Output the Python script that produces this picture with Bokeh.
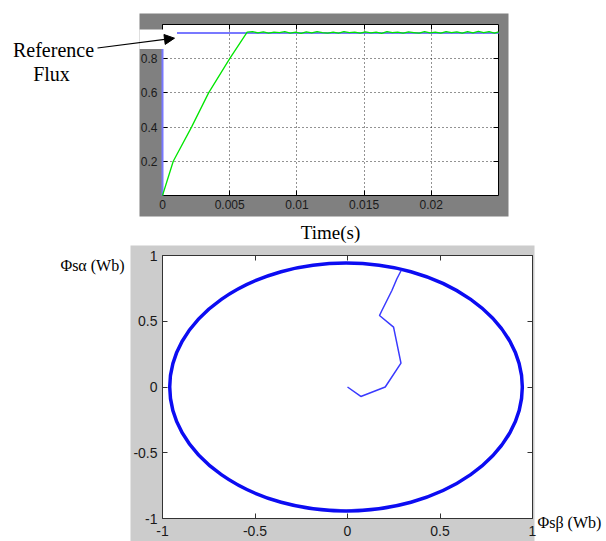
from bokeh.plotting import figure
from bokeh.models import (Range1d, LinearAxis, FixedTicker, BoxAnnotation, Label, Arrow,
                          NormalHead, GridBox)
from bokeh.embed import file_html
from bokeh.resources import INLINE

# ---------------- data ----------------
# top chart: flux magnitude vs time
ref_t = [0.0, 0.0, 0.025]
ref_flux = [0.0, 0.95, 0.95]

ramp_t = [0.0, 0.0008, 0.00216, 0.00343, 0.005, 0.0063]
ramp_flux = [0.0, 0.2, 0.4, 0.6, 0.8, 0.955]

steady_t = [0.0067, 0.0071, 0.0075, 0.0079, 0.0083, 0.0087, 0.0091, 0.0095, 0.0099, 0.0103,
            0.0107, 0.0111, 0.0115, 0.0119, 0.0123, 0.0127, 0.0131, 0.0135, 0.0139, 0.0143,
            0.0147, 0.0151, 0.0155, 0.0159, 0.0163, 0.0167, 0.0171, 0.0175, 0.0179, 0.0183,
            0.0187, 0.0191, 0.0195, 0.0199, 0.0203, 0.0207, 0.0211, 0.0215, 0.0219, 0.0223,
            0.0227, 0.0231, 0.0235, 0.0239, 0.0243, 0.0247, 0.0250]
steady_flux = [0.958, 0.951, 0.957, 0.949, 0.956, 0.952, 0.959, 0.950, 0.955, 0.948,
               0.957, 0.951, 0.958, 0.953, 0.949, 0.956, 0.950, 0.958, 0.952, 0.956,
               0.949, 0.957, 0.951, 0.955, 0.948, 0.958, 0.952, 0.956, 0.950, 0.957,
               0.953, 0.949, 0.958, 0.951, 0.956, 0.950, 0.959, 0.952, 0.957, 0.949,
               0.958, 0.951, 0.960, 0.953, 0.958, 0.950, 0.957]

top_xticks = [0, 0.005, 0.01, 0.015, 0.02]
top_xlabels = ["0", "0.005", "0.01", "0.015", "0.02"]
top_yticks = [0.2, 0.4, 0.6, 0.8]
top_ylabels = ["0.2", "0.4", "0.6", "0.8"]

# bottom chart: stator flux locus
locus_center_beta = [-0.008]
locus_center_alpha = [0.0]
locus_width = [1.906]
locus_height = [1.886]

traj_beta = [0.0, 0.072, 0.204, 0.289, 0.249, 0.173, 0.186, 0.213, 0.240, 0.267, 0.290]
traj_alpha = [0.0, -0.072, 0.0, 0.181, 0.455, 0.544, 0.582, 0.658, 0.734, 0.823, 0.886]

bot_ticks = [-1, -0.5, 0, 0.5, 1]
bot_labels = ["-1", "-0.5", "0", "0.5", "1"]

SANS = "Liberation Sans"
SERIF = "Liberation Serif"
W, H = 606, 541


def style_axis(ax, ticks, labels, fs, color, show_labels=True, standoff=4):
    ax.ticker = FixedTicker(ticks=ticks)
    ax.major_label_overrides = dict(zip(ticks, labels))
    ax.major_tick_in = 5
    ax.major_tick_out = 0
    ax.major_tick_line_color = color
    ax.minor_tick_line_color = None
    ax.axis_line_color = color
    ax.major_label_text_font = SANS
    ax.major_label_text_font_size = fs
    ax.major_label_standoff = standoff
    if show_labels:
        ax.major_label_text_color = "#1a1a1a"
    else:
        ax.major_label_text_color = None
        ax.major_label_standoff = 0


# ---------------- background (grey panels) ----------------
bg = figure(width=W, height=H, x_range=Range1d(0, W), y_range=Range1d(H, 0),
            output_backend="svg", toolbar_location=None, min_border=0, frame_align=False,
            x_axis_location=None, y_axis_location=None, outline_line_color=None,
            background_fill_color="white", border_fill_color="white")
bg.xgrid.visible = False
bg.ygrid.visible = False
for (l, r, t, b, c) in [(139, 508, 13, 216, "#808080"), (162, 498, 24, 195, "white"),
                        (130, 534, 245, 541, "#cccccc"), (162, 532, 255, 518, "white")]:
    bg.add_layout(BoxAnnotation(left=l, right=r, top=t, bottom=b, fill_color=c,
                                fill_alpha=1, line_color=None))

# ---------------- top figure ----------------
top = figure(width=W, height=245, x_range=Range1d(0, 0.025), y_range=Range1d(0, 1),
             output_backend="svg", toolbar_location=None, frame_align=False,
             min_border_left=162, min_border_right=108, min_border_top=24, min_border_bottom=50,
             background_fill_color=None, border_fill_color=None, outline_line_color=None)

xa = top.below[0]
ya = top.left[0]
style_axis(xa, top_xticks, top_xlabels, "12px", "black")
style_axis(ya, top_yticks, top_ylabels, "12px", "black", standoff=5)
xa.axis_label = "Time(s)"
xa.axis_label_text_font = SERIF
xa.axis_label_text_font_size = "19px"
xa.axis_label_text_font_style = "normal"
xa.axis_label_text_color = "black"
xa.axis_label_standoff = 10

top.xgrid.ticker = xa.ticker
top.ygrid.ticker = ya.ticker
for g in (top.xgrid, top.ygrid):
    g.grid_line_color = "black"
    g.grid_line_dash = "1 3"
    g.grid_line_alpha = 0.85
    g.grid_line_width = 1

ax_top = LinearAxis()
style_axis(ax_top, top_xticks, top_xlabels, "12px", "black", show_labels=False)
top.add_layout(ax_top, "above")
ax_right = LinearAxis()
style_axis(ax_right, top_yticks, top_ylabels, "12px", "black", show_labels=False)
top.add_layout(ax_right, "right")

top.line(ref_t, ref_flux, line_color="#7878ff", line_width=2, level="overlay")
top.line(ramp_t + steady_t, ramp_flux + steady_flux, line_color="#00e600", line_width=1.3,
         level="overlay")

# ---------------- bottom figure ----------------
bot = figure(width=W, height=296, x_range=Range1d(-1, 1), y_range=Range1d(-1, 1),
             output_backend="svg", toolbar_location=None, frame_align=False,
             min_border_left=162, min_border_right=74, min_border_top=10, min_border_bottom=23,
             background_fill_color=None, border_fill_color=None, outline_line_color=None)
bot.xgrid.visible = False
bot.ygrid.visible = False

bx = bot.below[0]
by = bot.left[0]
style_axis(bx, bot_ticks, bot_labels, "14px", "#333333", standoff=7)
style_axis(by, bot_ticks, bot_labels, "14px", "#333333", standoff=5)
bx2 = LinearAxis()
style_axis(bx2, bot_ticks, bot_labels, "14px", "#333333", show_labels=False)
bot.add_layout(bx2, "above")
by2 = LinearAxis()
style_axis(by2, bot_ticks, bot_labels, "14px", "#333333", show_labels=False)
bot.add_layout(by2, "right")

bot.ellipse(x=locus_center_beta, y=locus_center_alpha, width=locus_width, height=locus_height,
            fill_color=None, line_color="#0c0cf2", line_width=3.5)
bot.line(traj_beta, traj_alpha, line_color="#3a3aff", line_width=1.5)

# ---------------- overlay (annotation texts and arrow) ----------------
ov = figure(width=W, height=H, x_range=Range1d(0, W), y_range=Range1d(H, 0),
            output_backend="svg", toolbar_location=None, min_border=0, frame_align=False,
            x_axis_location=None, y_axis_location=None, outline_line_color=None,
            background_fill_color=None, border_fill_color=None)
ov.xgrid.visible = False
ov.ygrid.visible = False
ov.add_layout(BoxAnnotation(left=139, right=176.5, top=29, bottom=48.5, fill_color="white",
                            fill_alpha=1, line_color=None))
ov.add_layout(Arrow(x_start=97, y_start=47.5, x_end=174, y_end=37.7,
                    end=NormalHead(size=10, fill_color="black", line_color="black"),
                    line_color="black", line_width=1.2))
ov.add_layout(Label(x=53, y=49, text="Reference", text_align="center", text_baseline="middle",
                    text_font=SERIF, text_font_size="20px", text_color="black"))
ov.add_layout(Label(x=51, y=73, text="Flux", text_align="center", text_baseline="middle",
                    text_font=SERIF, text_font_size="20px", text_color="black"))
ov.add_layout(Label(x=124, y=265, text="Φsα (Wb)", text_align="right", text_baseline="middle",
                    text_font=SERIF, text_font_size="16px", text_color="black"))
ov.add_layout(Label(x=537, y=522, text="Φsβ (Wb)", text_align="left", text_baseline="middle",
                    text_font=SERIF, text_font_size="16px", text_color="black"))

layout = GridBox(children=[(bg, 0, 0, 2, 1), (top, 0, 0), (bot, 1, 0), (ov, 0, 0, 2, 1)])
open("out.html", "w").write(file_html(layout, INLINE))
